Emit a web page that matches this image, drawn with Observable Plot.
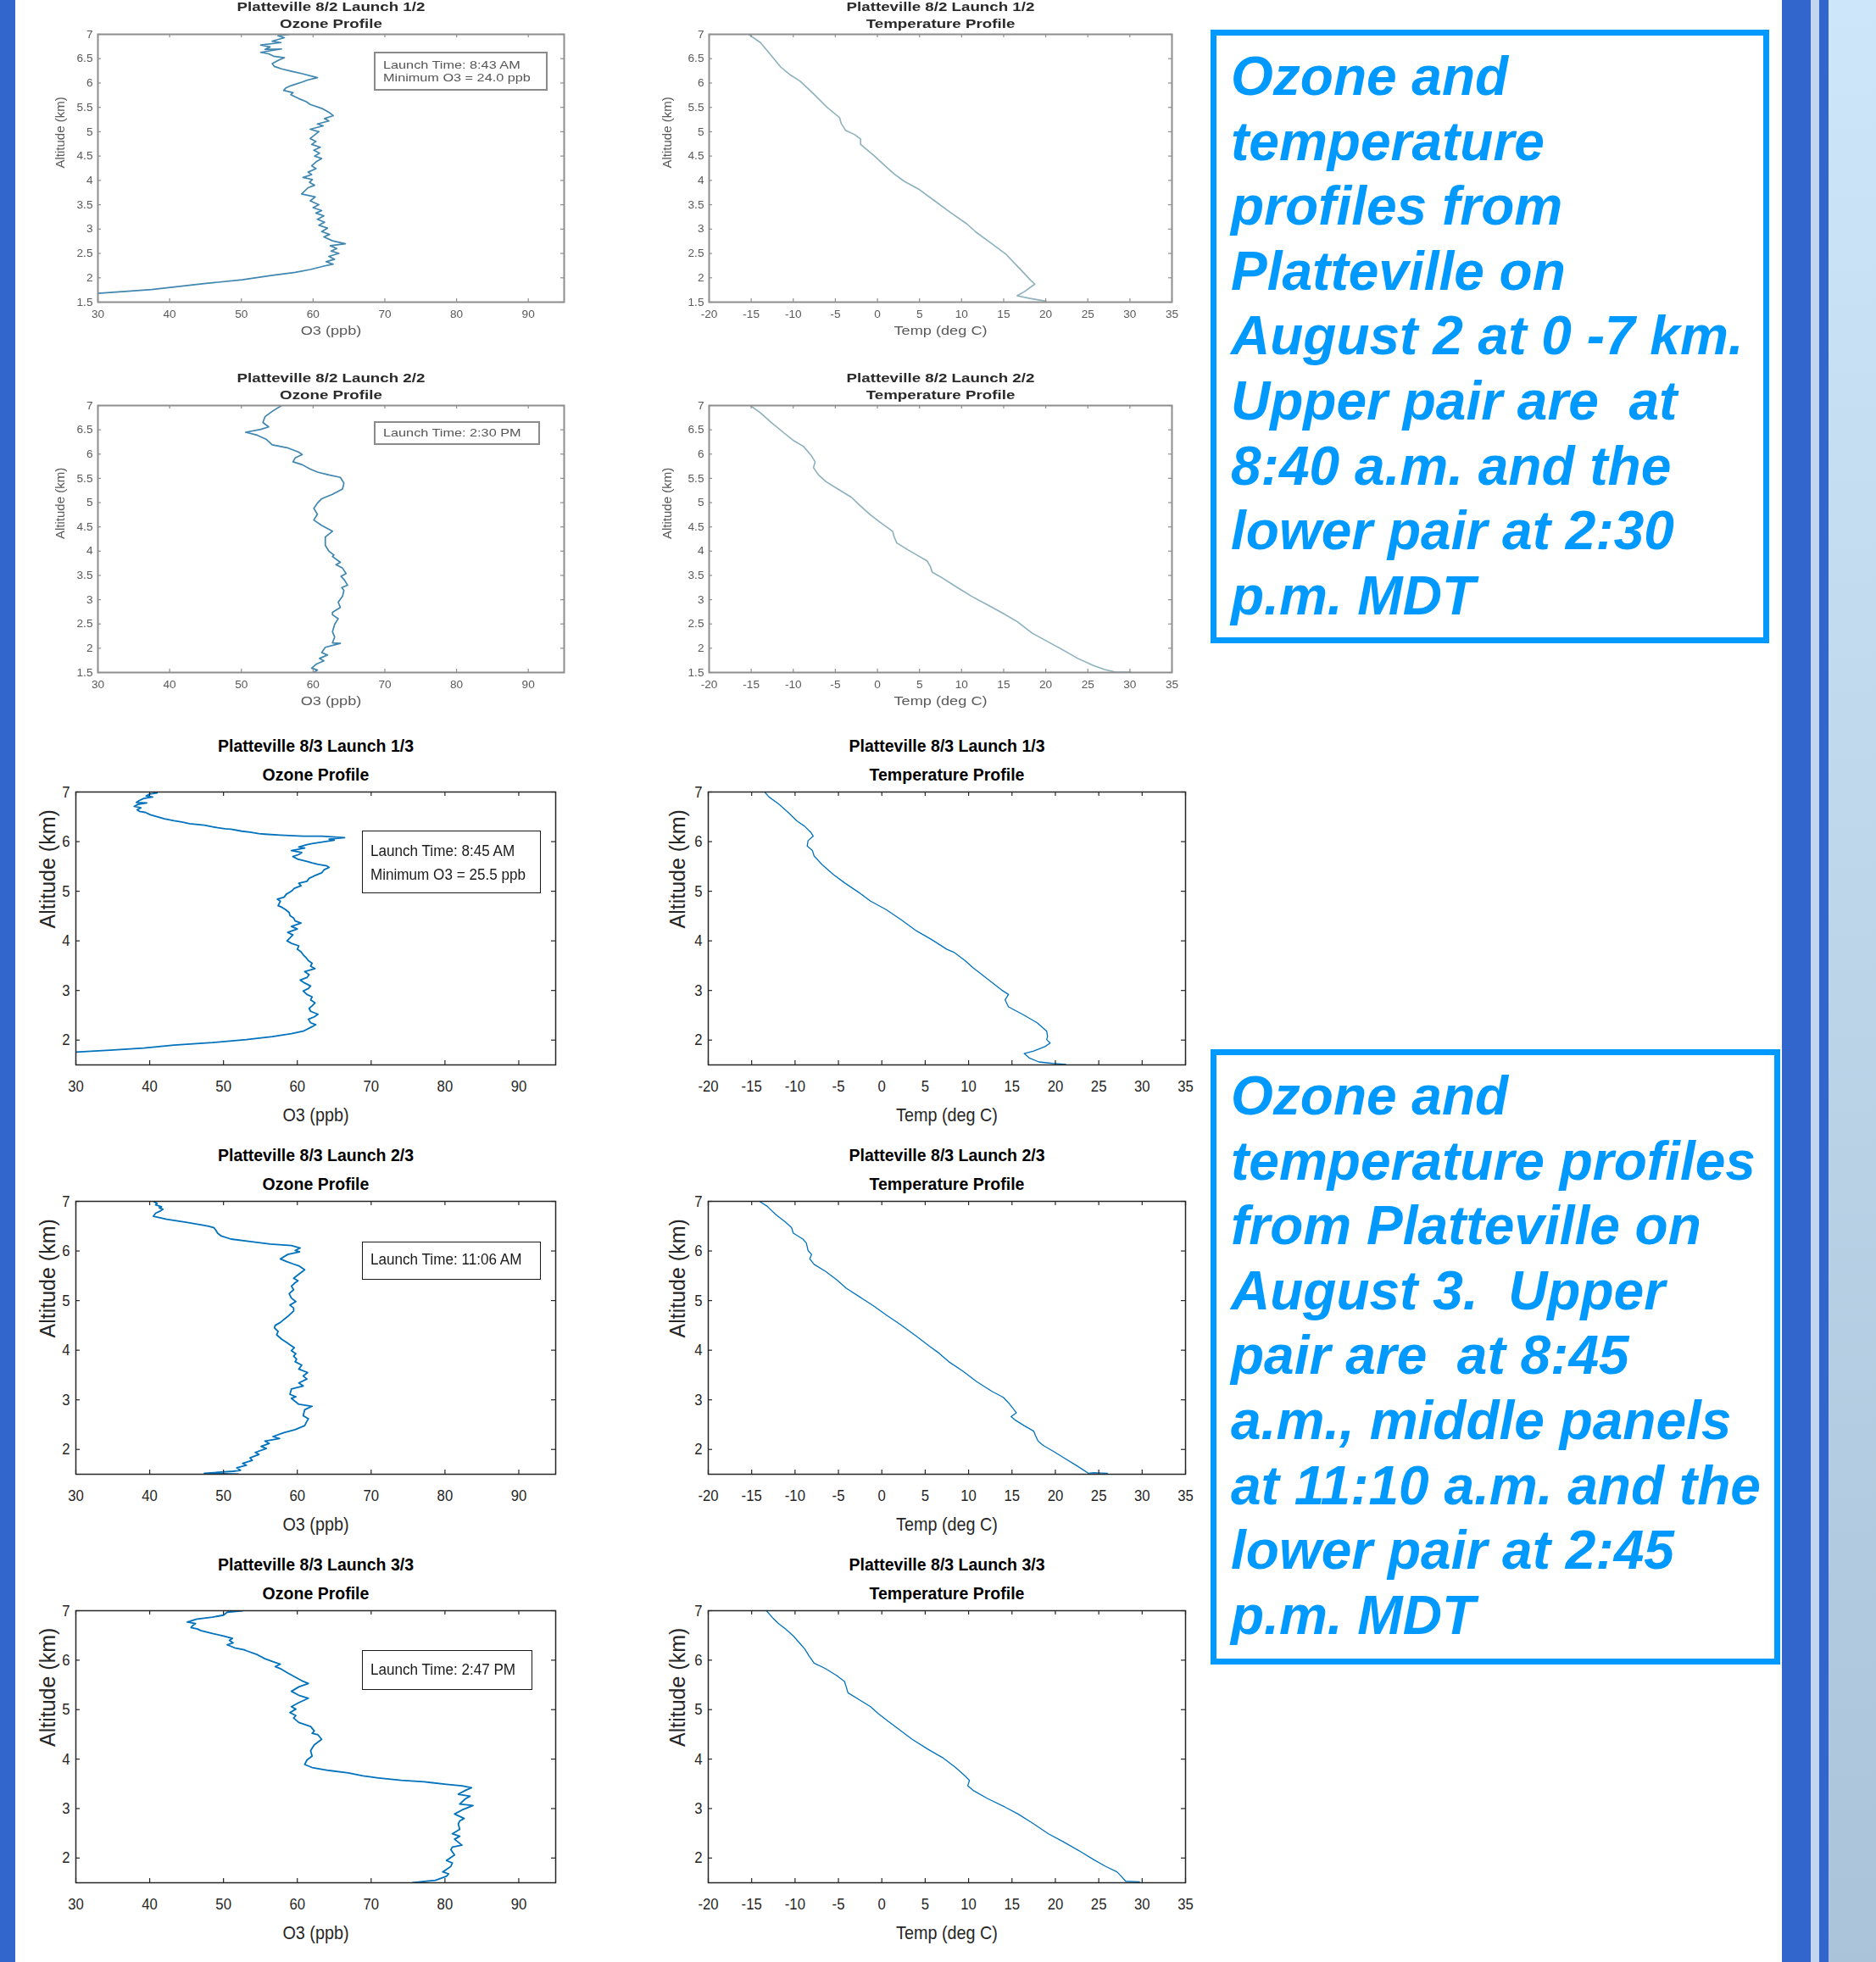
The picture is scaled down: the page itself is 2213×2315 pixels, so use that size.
<!DOCTYPE html>
<html>
<head>
<meta charset="utf-8">
<script src="https://cdn.jsdelivr.net/npm/d3@7"></script>
<script src="https://cdn.jsdelivr.net/npm/@observablehq/plot@0.6"></script>
<style>
html, body { margin: 0; padding: 0; background: #fff; }
#page { position: relative; width: 2213px; height: 2315px; overflow: hidden; background: #fff; font-family: "Liberation Sans", Arial, sans-serif; }
.blk { position: absolute; }
.note { position: absolute; box-sizing: border-box; border: 7px solid #0099ff; color: #0099ff; background: #fff;
  font: italic bold 64px/76.6px "Liberation Sans", Arial, sans-serif; white-space: pre; padding: 10px 0 0 17px; }
.launch { position: absolute; box-sizing: border-box; background: #fff; }
.launch span { position: absolute; white-space: pre; transform-origin: left center; }
</style>
</head>
<body>
<div id="page"></div>
<script>
// ---------------- DATA ----------------
// tick labels
const O3_TICKS = [30, 40, 50, 60, 70, 80, 90];
const TEMP_TICKS = [-20, -15, -10, -5, 0, 5, 10, 15, 20, 25, 30, 35];
const ALT_TICKS_0802 = [1.5, 2, 2.5, 3, 3.5, 4, 4.5, 5, 5.5, 6, 6.5, 7];
const ALT_TICKS_0803 = [2, 3, 4, 5, 6, 7];
const O3_DOMAIN = [30, 95];
const TEMP_DOMAIN = [-20, 35];
const ALT_DOMAIN = [1.5, 7];

// titles / labels
const TITLES = [
  "Platteville 8/2 Launch 1/2", "Platteville 8/2 Launch 2/2",
  "Platteville 8/3 Launch 1/3", "Platteville 8/3 Launch 2/3", "Platteville 8/3 Launch 3/3"
];
const LAUNCH_NOTES = [
  ["Launch Time: 8:43 AM", "Minimum O3 = 24.0 ppb"],
  ["Launch Time: 2:30 PM"],
  ["Launch Time: 8:45 AM", "Minimum O3 = 25.5 ppb"],
  ["Launch Time: 11:06 AM"],
  ["Launch Time: 2:47 PM"]
];

// series: [value, altitude km]
const o3_0802_1 = [[56.7,7.00],[55.1,6.97],[56.0,6.93],[54.3,6.86],[55.5,6.83],[52.7,6.78],[54.0,6.74],[53.3,6.69],[55.6,6.70],[52.7,6.63],[53.8,6.60],[54.5,6.55],[56.0,6.52],[55.2,6.47],[54.3,6.40],[54.6,6.34],[55.6,6.29],[57.0,6.24],[58.5,6.19],[60.6,6.11],[59.2,6.06],[58.5,6.02],[57.0,5.95],[56.2,5.90],[55.9,5.85],[57.2,5.80],[56.9,5.76],[58.0,5.68],[59.0,5.62],[59.6,5.56],[61.2,5.48],[62.2,5.40],[62.8,5.33],[61.6,5.27],[62.2,5.22],[60.6,5.16],[61.4,5.12],[59.6,5.05],[60.8,5.00],[60.2,4.93],[59.6,4.86],[60.4,4.80],[59.8,4.74],[61.0,4.68],[60.1,4.62],[60.9,4.56],[60.2,4.50],[61.2,4.45],[60.4,4.38],[59.8,4.30],[60.4,4.24],[59.3,4.17],[59.8,4.12],[58.6,4.06],[59.9,4.02],[59.5,3.96],[60.2,3.90],[59.3,3.85],[58.4,3.72],[60.3,3.66],[59.6,3.58],[60.8,3.50],[60.0,3.44],[61.2,3.38],[60.4,3.33],[61.5,3.27],[60.6,3.20],[61.6,3.14],[60.8,3.08],[62.0,3.02],[61.2,2.95],[62.3,2.89],[61.5,2.84],[62.7,2.76],[64.5,2.70],[62.4,2.66],[63.3,2.60],[62.5,2.55],[63.6,2.50],[62.2,2.44],[63.0,2.38],[61.8,2.33],[62.8,2.28],[61.5,2.24],[59.6,2.17],[57.5,2.11],[54.3,2.05],[50.1,1.96],[44.8,1.88],[37.5,1.76],[30.0,1.68]];
const temp_0802_1 = [[-15.3,7.0],[-13.9,6.83],[-12.6,6.56],[-11.5,6.33],[-10.3,6.16],[-9.2,6.04],[-7.6,5.78],[-6.1,5.52],[-4.5,5.29],[-4.3,5.17],[-3.8,5.03],[-2.7,4.94],[-2.0,4.85],[-2.0,4.74],[-0.4,4.51],[0.9,4.30],[2.0,4.13],[3.2,3.98],[5.0,3.81],[6.8,3.58],[8.6,3.35],[10.6,3.11],[11.7,2.94],[13.5,2.71],[15.3,2.48],[16.9,2.19],[18.2,1.95],[18.7,1.87],[17.5,1.72],[16.6,1.63],[18.0,1.58],[20.0,1.52]];
const o3_0802_2 = [[55.6,7.00],[54.3,6.88],[53.3,6.77],[53.0,6.65],[53.8,6.56],[52.7,6.51],[50.6,6.45],[52.2,6.39],[53.5,6.30],[54.3,6.19],[56.4,6.13],[58.0,6.04],[58.5,5.99],[57.5,5.92],[57.2,5.84],[58.5,5.78],[59.6,5.69],[60.6,5.63],[62.2,5.57],[63.8,5.52],[64.3,5.40],[64.1,5.28],[62.7,5.17],[61.2,5.08],[60.6,4.99],[60.1,4.88],[60.6,4.76],[60.1,4.64],[61.2,4.53],[62.7,4.41],[61.7,4.29],[61.7,4.12],[62.2,4.00],[62.9,3.92],[62.7,3.89],[63.8,3.77],[63.2,3.72],[64.1,3.65],[64.6,3.54],[63.9,3.48],[64.3,3.42],[64.8,3.30],[64.0,3.25],[64.3,3.19],[64.1,3.07],[63.5,2.95],[63.8,2.84],[62.7,2.74],[62.7,2.69],[63.5,2.61],[63.0,2.49],[62.7,2.34],[63.0,2.23],[62.7,2.11],[63.8,2.10],[61.7,2.02],[61.2,1.91],[62.0,1.86],[60.9,1.79],[61.5,1.74],[60.4,1.67],[59.8,1.59],[60.6,1.55],[60.1,1.50]];
const temp_0802_2 = [[-15.1,7.0],[-13.9,6.85],[-12.6,6.65],[-11.2,6.45],[-9.9,6.27],[-8.8,6.16],[-7.9,5.98],[-7.4,5.84],[-7.6,5.72],[-7.0,5.57],[-6.1,5.43],[-4.7,5.28],[-3.1,5.11],[-2.0,4.93],[-0.9,4.76],[0.2,4.61],[1.8,4.41],[2.0,4.29],[2.3,4.17],[3.6,4.03],[5.0,3.89],[5.9,3.80],[6.3,3.68],[6.5,3.57],[7.7,3.45],[9.5,3.25],[11.2,3.07],[13.0,2.90],[14.8,2.73],[16.6,2.55],[18.4,2.31],[20.2,2.14],[22.0,1.97],[23.8,1.79],[25.6,1.65],[27.0,1.56],[28.3,1.51],[30.1,1.51]];
const o3_0803_1 = [[40.5,7.00],[41.0,6.98],[40.0,6.96],[39.5,6.92],[40.4,6.90],[39.2,6.87],[38.6,6.83],[38.2,6.79],[39.6,6.78],[38.4,6.75],[37.9,6.71],[38.8,6.68],[38.3,6.64],[38.6,6.61],[39.4,6.59],[40.1,6.54],[41.3,6.49],[42.0,6.46],[43.3,6.42],[44.5,6.39],[45.4,6.36],[46.8,6.34],[47.4,6.33],[48.4,6.30],[49.2,6.28],[50.2,6.26],[51.0,6.25],[52.5,6.21],[53.6,6.19],[54.8,6.16],[55.6,6.15],[57.7,6.13],[60.8,6.11],[63.3,6.11],[66.4,6.08],[64.3,6.05],[65.0,6.03],[63.3,5.99],[62.0,5.96],[61.3,5.94],[60.2,5.89],[61.0,5.87],[59.2,5.82],[60.6,5.78],[60.2,5.74],[59.4,5.70],[60.0,5.65],[61.3,5.60],[62.0,5.57],[62.8,5.54],[64.0,5.51],[64.3,5.48],[63.6,5.43],[63.3,5.37],[62.3,5.31],[61.6,5.26],[61.3,5.20],[60.2,5.16],[60.5,5.11],[59.6,5.06],[59.2,5.00],[58.5,4.94],[58.2,4.88],[57.3,4.84],[57.7,4.80],[57.4,4.71],[58.0,4.67],[58.4,4.63],[58.9,4.57],[59.0,4.51],[59.5,4.46],[59.7,4.40],[60.5,4.36],[59.2,4.29],[60.0,4.24],[58.7,4.17],[59.4,4.12],[59.0,4.06],[58.6,4.00],[59.2,3.95],[60.2,3.90],[60.0,3.83],[60.5,3.78],[60.8,3.72],[61.2,3.66],[61.5,3.60],[62.0,3.55],[61.8,3.49],[62.4,3.44],[61.0,3.38],[61.6,3.32],[61.3,3.26],[60.4,3.21],[61.0,3.15],[61.8,3.09],[61.5,3.04],[60.8,2.99],[61.3,2.92],[62.0,2.87],[61.8,2.81],[62.4,2.75],[62.0,2.69],[61.6,2.64],[61.8,2.58],[62.8,2.52],[62.3,2.47],[61.5,2.42],[61.8,2.35],[62.5,2.31],[62.0,2.27],[60.8,2.18],[59.2,2.13],[56.6,2.07],[53.1,2.01],[48.5,1.95],[43.3,1.90],[39.2,1.84],[35.1,1.80],[30.0,1.76]];
const temp_0803_1 = [[-13.5,7.0],[-13.0,6.90],[-11.9,6.76],[-10.8,6.59],[-9.8,6.42],[-8.9,6.31],[-8.2,6.19],[-7.9,6.11],[-8.5,6.02],[-8.6,5.91],[-8.0,5.82],[-7.8,5.71],[-6.9,5.54],[-5.6,5.34],[-4.3,5.17],[-2.6,4.97],[-1.3,4.80],[0.5,4.63],[2.2,4.43],[4.0,4.20],[5.7,4.03],[7.5,3.83],[8.3,3.77],[9.6,3.60],[10.5,3.46],[12.2,3.23],[13.8,3.01],[14.6,2.92],[14.2,2.81],[14.6,2.67],[16.2,2.52],[17.9,2.35],[19.0,2.18],[19.1,2.07],[19.0,2.01],[19.4,1.94],[18.8,1.87],[17.5,1.78],[16.4,1.73],[17.0,1.64],[18.1,1.56],[19.7,1.53],[21.2,1.51]];
const o3_0803_2 = [[40.5,7.00],[41.0,6.96],[40.8,6.93],[41.6,6.89],[41.3,6.87],[41.8,6.84],[41.5,6.81],[40.8,6.76],[40.5,6.70],[42.3,6.64],[44.9,6.58],[46.9,6.53],[48.0,6.50],[48.7,6.47],[49.0,6.41],[49.2,6.36],[49.7,6.30],[51.0,6.24],[53.6,6.19],[56.3,6.14],[59.2,6.11],[60.4,6.06],[59.7,6.01],[60.3,5.98],[58.7,5.93],[57.7,5.84],[58.5,5.79],[59.4,5.74],[60.2,5.70],[61.0,5.62],[60.2,5.53],[59.5,5.45],[60.1,5.40],[59.7,5.36],[59.2,5.29],[59.5,5.22],[58.9,5.14],[59.2,5.05],[59.8,4.98],[59.0,4.91],[59.5,4.85],[59.5,4.79],[58.7,4.68],[57.7,4.56],[57.0,4.50],[56.9,4.45],[57.4,4.38],[57.2,4.31],[57.9,4.22],[58.6,4.15],[59.0,4.11],[59.6,4.05],[59.2,3.99],[59.8,3.93],[59.5,3.88],[59.9,3.82],[59.7,3.77],[60.6,3.70],[60.2,3.62],[61.4,3.55],[60.8,3.48],[61.3,3.42],[60.2,3.34],[60.8,3.28],[59.2,3.22],[59.0,3.11],[59.8,3.06],[59.2,3.03],[60.2,2.91],[62.0,2.87],[61.0,2.80],[60.8,2.68],[61.5,2.62],[61.3,2.57],[61.0,2.48],[59.7,2.40],[58.2,2.34],[56.7,2.26],[57.6,2.22],[55.6,2.17],[56.2,2.12],[55.1,2.06],[55.8,2.02],[54.3,1.94],[54.8,1.90],[53.6,1.83],[53.9,1.78],[52.6,1.72],[53.1,1.68],[51.8,1.63],[52.3,1.58],[51.3,1.56],[47.4,1.52],[50.0,1.51],[52.0,1.50]];
const temp_0803_2 = [[-14.1,7.0],[-13.2,6.90],[-12.2,6.73],[-11.1,6.58],[-10.4,6.47],[-10.2,6.36],[-9.1,6.24],[-8.7,6.16],[-8.5,6.01],[-8.1,5.93],[-8.3,5.84],[-7.8,5.73],[-6.5,5.59],[-5.2,5.42],[-4.1,5.25],[-2.6,5.08],[-1.0,4.90],[0.5,4.71],[2.2,4.51],[4.0,4.28],[5.5,4.08],[6.6,3.94],[7.7,3.77],[9.4,3.57],[10.9,3.37],[12.7,3.17],[14.0,3.05],[14.6,2.94],[15.1,2.83],[15.5,2.74],[14.9,2.66],[15.3,2.60],[16.4,2.48],[17.5,2.37],[17.7,2.28],[18.0,2.17],[18.6,2.08],[19.7,1.97],[21.0,1.83],[22.3,1.69],[23.1,1.60],[23.8,1.52],[24.4,1.53],[26.0,1.52]];
const o3_0803_3 = [[52.6,7.00],[50.5,6.97],[50.0,6.91],[48.5,6.87],[46.4,6.83],[45.1,6.77],[46.2,6.74],[45.9,6.71],[45.6,6.66],[46.5,6.63],[46.9,6.60],[48.5,6.54],[50.0,6.49],[51.2,6.44],[50.8,6.40],[51.3,6.35],[50.5,6.31],[51.5,6.25],[52.8,6.21],[53.1,6.19],[54.6,6.11],[55.6,6.03],[56.7,5.97],[57.7,5.92],[57.0,5.87],[57.7,5.83],[58.7,5.74],[59.7,5.66],[60.8,5.57],[61.5,5.53],[60.2,5.46],[59.2,5.37],[60.2,5.29],[61.5,5.23],[60.2,5.14],[59.2,5.06],[59.8,5.01],[59.0,4.94],[59.8,4.88],[59.5,4.83],[60.2,4.74],[61.8,4.66],[62.3,4.57],[62.0,4.52],[62.8,4.49],[63.3,4.40],[62.3,4.29],[62.0,4.22],[61.8,4.17],[62.0,4.06],[61.3,3.98],[61.0,3.89],[62.0,3.83],[64.3,3.77],[66.9,3.72],[68.9,3.66],[71.0,3.62],[74.1,3.57],[77.2,3.54],[80.2,3.49],[82.3,3.46],[83.6,3.42],[82.8,3.37],[81.8,3.29],[83.4,3.25],[82.8,3.20],[82.0,3.09],[83.8,3.06],[82.3,2.97],[81.3,2.89],[82.6,2.80],[82.0,2.75],[81.8,2.69],[82.0,2.58],[81.0,2.49],[82.0,2.44],[81.3,2.38],[82.3,2.26],[81.0,2.22],[80.8,2.17],[81.3,2.06],[80.2,1.95],[81.0,1.90],[80.8,1.83],[79.7,1.72],[80.5,1.68],[80.2,1.63],[78.7,1.55],[75.6,1.50]];
const temp_0803_3 = [[-13.3,7.0],[-12.6,6.86],[-11.9,6.74],[-11.1,6.63],[-10.2,6.49],[-9.3,6.31],[-8.9,6.23],[-8.4,6.09],[-7.8,5.94],[-6.5,5.83],[-5.2,5.69],[-4.3,5.57],[-4.1,5.46],[-3.9,5.34],[-2.6,5.20],[-1.3,5.06],[-0.4,4.92],[0.7,4.77],[2.2,4.57],[3.5,4.40],[5.3,4.20],[7.0,4.03],[8.5,3.83],[9.6,3.66],[10.1,3.57],[9.9,3.46],[10.5,3.37],[12.2,3.20],[14.2,3.03],[15.7,2.89],[17.5,2.69],[19.2,2.49],[21.0,2.32],[22.7,2.15],[24.4,1.97],[25.8,1.83],[27.1,1.72],[27.6,1.63],[28.1,1.53],[29.7,1.52]];

const NOTE_1 = ["Ozone and", "temperature", "profiles from", "Platteville on", "August 2 at 0 -7 km.", "Upper pair are  at", "8:40 a.m. and the", "lower pair at 2:30", "p.m. MDT"];
const NOTE_2 = ["Ozone and", "temperature profiles", "from Platteville on", "August 3.  Upper", "pair are  at 8:45", "a.m., middle panels", "at 11:10 a.m. and the", "lower pair at 2:45", "p.m. MDT"];

// ---------------- STYLES / LAYOUT ----------------
const S82 = {frame: "#8e8e8e", frameW: 2, tickLen: 4, text: "#5a5a5a", titleFill: "#2a2a2a",
  tickFont: 13, tickScale: 1.05, tickPadX: 9, tickPadY: 6,
  titleFont: 15, titleScale: 1.25, t1dy: -38, t2dy: -18,
  xlabFont: 14, xlabScale: 1.3, xlabDy: 38, ylabFont: 15,
  o3Stroke: "#3f86b0", o3W: 1.7, tStroke: "#8db0bd", tW: 1.6, blur: 0.5, altTicks: ALT_TICKS_0802};
const S83 = {frame: "#262626", frameW: 1.5, tickLen: 5, text: "#262626", titleFill: "#000",
  tickFont: 19, tickScale: 0.88, tickPadX: 18, tickPadY: 7,
  titleFont: 21, titleScale: 0.93, t1dy: -62, t2dy: -28,
  xlabFont: 22, xlabScale: 0.9, xlabDy: 66, ylabFont: 25,
  o3Stroke: "#0072bd", o3W: 1.8, tStroke: "#0072bd", tW: 1.3, blur: 0, altTicks: ALT_TICKS_0803};

const page = document.getElementById("page");
function div(css, cls) {
  const d = document.createElement("div");
  d.className = cls || "blk";
  Object.assign(d.style, css);
  page.appendChild(d);
  return d;
}

// slide decorations
div({left: "0px", top: "0px", width: "18px", height: "2315px", background: "#3366cc"});
div({left: "2102px", top: "0px", width: "34px", height: "2315px", background: "#3366cc"});
div({left: "2136px", top: "0px", width: "10px", height: "2315px", background: "#c3d6ef"});
div({left: "2146px", top: "0px", width: "11px", height: "2315px", background: "#3366cc"});
div({left: "2157px", top: "0px", width: "56px", height: "2315px", background: "linear-gradient(to bottom, #cde6fa, #aac3d8)"});

const ML = 120, MR = 40, MT = 80, MB = 80;

function squeeze(svg, cfg, st) {
  svg.querySelectorAll("text").forEach(t => {
    const txt = t.textContent;
    let s;
    if (txt === cfg.ylab) return;
    if (txt === cfg.title1 || txt === cfg.title2) s = st.titleScale;
    else if (txt === cfg.xlab) s = st.xlabScale;
    else s = st.tickScale;
    if (s === 1) return;
    const bb = t.getBBox();
    const a = getComputedStyle(t).textAnchor;
    const ax = a === "middle" ? bb.x + bb.width / 2 : a === "end" ? bb.x + bb.width : bb.x;
    const tr = t.getAttribute("transform") || "";
    t.setAttribute("transform", `${tr} translate(${ax},0) scale(${s},1) translate(${-ax},0)`);
  });
}

function chart(cfg) {
  const st = cfg.st;
  const [x0, x1, y0, y1] = cfg.frame;
  const W = x1 - x0, H = y1 - y0;
  const isO3 = cfg.kind === "o3";
  const xTicks = isO3 ? O3_TICKS : TEMP_TICKS;
  const fmt = d => String(d);
  const plot = Plot.plot({
    width: W + ML + MR, height: H + MT + MB,
    marginLeft: ML, marginRight: MR, marginTop: MT, marginBottom: MB,
    style: {background: "transparent", overflow: "visible", fontFamily: "'Liberation Sans', Arial, sans-serif", color: st.text, fontSize: st.tickFont + "px"},
    x: {domain: isO3 ? O3_DOMAIN : TEMP_DOMAIN},
    y: {domain: ALT_DOMAIN},
    marks: [
      Plot.line(cfg.data, {x: d => d[0], y: d => d[1], stroke: isO3 ? st.o3Stroke : st.tStroke,
        strokeWidth: isO3 ? st.o3W : st.tW, strokeLinejoin: "round", clip: true}),
      Plot.frame({stroke: st.frame, strokeWidth: st.frameW}),
      Plot.tickX(xTicks, {x: d => d, insetTop: H - st.tickLen, stroke: st.frame, strokeWidth: 1.2}),
      Plot.tickX(xTicks, {x: d => d, insetBottom: H - st.tickLen, stroke: st.frame, strokeWidth: 1.2}),
      Plot.tickY(st.altTicks, {y: d => d, insetRight: W - st.tickLen, stroke: st.frame, strokeWidth: 1.2}),
      Plot.tickY(st.altTicks, {y: d => d, insetLeft: W - st.tickLen, stroke: st.frame, strokeWidth: 1.2}),
      Plot.axisX(xTicks, {tickSize: 0, tickPadding: st.tickPadX, label: null, tickFormat: fmt, fontSize: st.tickFont, fill: st.text}),
      Plot.axisY(st.altTicks, {tickSize: 0, tickPadding: st.tickPadY, label: null, tickFormat: fmt, fontSize: st.tickFont, fill: st.text}),
      Plot.text([cfg.title1], {text: d => d, frameAnchor: "top", dy: st.t1dy, fontWeight: "bold", fontSize: st.titleFont, fill: st.titleFill}),
      Plot.text([cfg.title2], {text: d => d, frameAnchor: "top", dy: st.t2dy, fontWeight: "bold", fontSize: st.titleFont, fill: st.titleFill}),
      Plot.text([cfg.xlab], {text: d => d, frameAnchor: "bottom", dy: st.xlabDy, fontSize: st.xlabFont, fill: st.text}),
      Plot.text([cfg.ylab], {text: d => d, frameAnchor: "left", dx: cfg.ylabDx, rotate: -90, fontSize: st.ylabFont, fill: st.text})
    ]
  });
  const holder = div({left: (x0 - ML) + "px", top: (y0 - MT) + "px", width: (W + ML + MR) + "px", height: (H + MT + MB) + "px",
    filter: st.blur ? `blur(${st.blur}px)` : "none"});
  holder.appendChild(plot);
  squeeze(plot, cfg, st);
}

function launchBox(b) {
  const d = div({left: b.x + "px", top: b.y + "px", width: b.w + "px", height: b.h + "px",
    border: `${b.bw}px solid ${b.bc}`, filter: b.blur ? `blur(${b.blur}px)` : "none"}, "launch");
  b.lines.forEach((line, i) => {
    const sp = document.createElement("span");
    sp.textContent = line;
    Object.assign(sp.style, {left: (b.tx - b.bw) + "px", top: (b.cy[i] - b.fs * 0.6 - b.bw) + "px",
      font: `${b.fs}px/${b.fs * 1.2}px 'Liberation Sans', Arial, sans-serif`, color: b.color, transform: `scaleX(${b.sx})`});
    d.appendChild(sp);
  });
}

const ROWS = [
  {st: S82, y: [40, 356], title: TITLES[0], o3: o3_0802_1, t: temp_0802_1},
  {st: S82, y: [478, 793], title: TITLES[1], o3: o3_0802_2, t: temp_0802_2},
  {st: S83, y: [934, 1256], title: TITLES[2], o3: o3_0803_1, t: temp_0803_1},
  {st: S83, y: [1417, 1739], title: TITLES[3], o3: o3_0803_2, t: temp_0803_2},
  {st: S83, y: [1900, 2221], title: TITLES[4], o3: o3_0803_3, t: temp_0803_3}
];

ROWS.forEach((r, i) => {
  const old = r.st === S82;
  chart({st: r.st, kind: "o3", data: r.o3, frame: old ? [115, 665, r.y[0], r.y[1]] : [89, 655, r.y[0], r.y[1]],
    title1: r.title, title2: "Ozone Profile", xlab: "O3 (ppb)", ylab: "Altitude (km)", ylabDx: old ? -44 : -33});
  chart({st: r.st, kind: "t", data: r.t, frame: old ? [836, 1382, r.y[0], r.y[1]] : [835, 1398, r.y[0], r.y[1]],
    title1: r.title, title2: "Temperature Profile", xlab: "Temp (deg C)", ylab: "Altitude (km)", ylabDx: old ? -49 : -36});
});

// launch-time annotation boxes
launchBox({x: 441, y: 61, w: 205, h: 46, bw: 2, bc: "#8a8a8a", color: "#555", fs: 13, sx: 1.25, tx: 11, cy: [16, 31], lines: LAUNCH_NOTES[0], blur: 0.5});
launchBox({x: 441, y: 497, w: 196, h: 28, bw: 2, bc: "#8a8a8a", color: "#555", fs: 13, sx: 1.25, tx: 11, cy: [14], lines: LAUNCH_NOTES[1], blur: 0.5});
launchBox({x: 427, y: 980, w: 211, h: 74, bw: 1.5, bc: "#1a1a1a", color: "#1a1a1a", fs: 18, sx: 0.95, tx: 10, cy: [25, 53], lines: LAUNCH_NOTES[2]});
launchBox({x: 427, y: 1465, w: 211, h: 45, bw: 1.5, bc: "#1a1a1a", color: "#1a1a1a", fs: 18, sx: 0.95, tx: 10, cy: [22], lines: LAUNCH_NOTES[3]});
launchBox({x: 427, y: 1947, w: 201, h: 47, bw: 1.5, bc: "#1a1a1a", color: "#1a1a1a", fs: 18, sx: 0.95, tx: 10, cy: [24], lines: LAUNCH_NOTES[4]});

// text notes
function note(x, y, w, h, lines) {
  const d = div({left: x + "px", top: y + "px", width: w + "px", height: h + "px"}, "note");
  d.textContent = lines.join("\n");
}
note(1428, 35, 659, 724, NOTE_1);
note(1428, 1238, 672, 726, NOTE_2);
</script>
</body>
</html>
